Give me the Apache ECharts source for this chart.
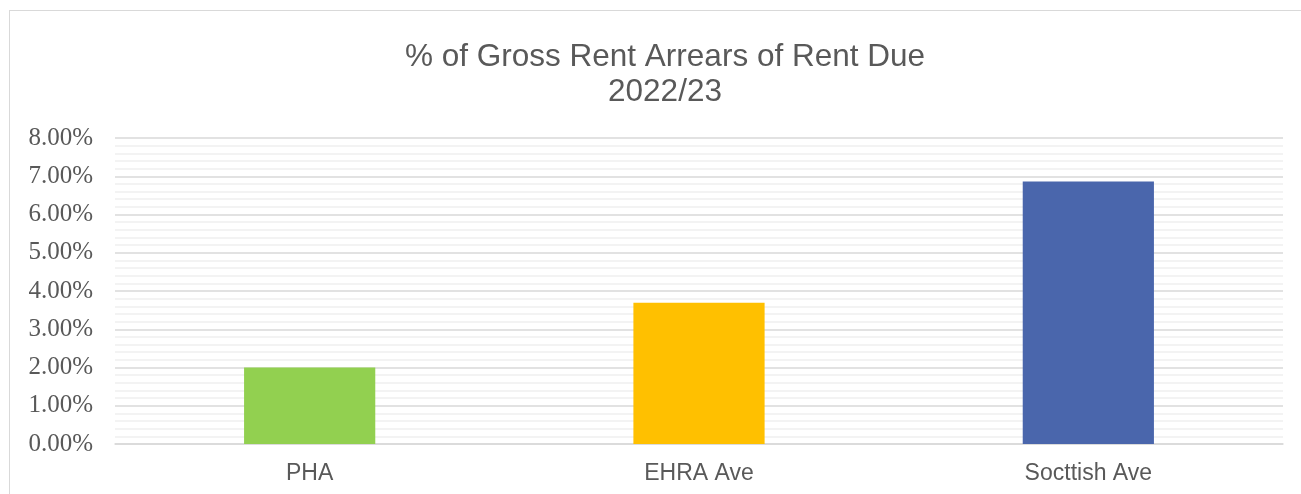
<!DOCTYPE html>
<html>
<head>
<meta charset="utf-8">
<script src="https://cdn.jsdelivr.net/npm/echarts@6/dist/echarts.min.js"></script>
<style>
  html, body { margin: 0; padding: 0; background: #fff; }
  #frame { position: absolute; left: 9px; top: 10px; width: 1300px; height: 500px; border: 1px solid #d9d9d9; box-sizing: border-box; }
  #main { position: absolute; left: 0; top: 0; width: 1301px; height: 494px; }
</style>
</head>
<body>
<div id="frame"></div>
<div id="main"></div>
<script>
var categories = ['PHA', 'EHRA Ave', 'Socttish Ave'];
var arrears = [2.00, 3.69, 6.86];
var barColors = ['#92D050', '#FFC000', '#4A66AC'];

var chart = echarts.init(document.getElementById('main'));
var option = {
    backgroundColor: 'transparent',
    animation: false,
    title: {
        text: '% of Gross Rent Arrears of Rent Due\n2022/23',
        left: 660,
        textAlign: 'center',
        top: 35,
        textStyle: {
            color: '#595959',
            fontFamily: 'Liberation Sans',
            fontSize: 31.5,
            fontWeight: 'normal',
            lineHeight: 35
        }
    },
    grid: { left: 115, right: 18, top: 138, bottom: 50 },
    xAxis: {
        type: 'category',
        data: categories,
        axisLine: { lineStyle: { color: '#d9d9d9', width: 1.5 } },
        axisTick: { show: false },
        axisLabel: {
            color: '#595959',
            fontFamily: 'Liberation Sans',
            fontSize: 23,
            margin: 18
        }
    },
    yAxis: {
        type: 'value',
        min: 0,
        max: 8,
        interval: 1,
        axisLine: { show: false },
        axisTick: { show: false },
        axisLabel: {
            color: '#595959',
            fontFamily: 'Liberation Serif',
            fontSize: 25,
            margin: 22,
            formatter: function (v) { return v.toFixed(2) + '%'; }
        },
        splitLine: { lineStyle: { color: '#d9d9d9', width: 1.5 } },
        minorTick: { show: false, splitNumber: 5 },
        minorSplitLine: { show: true, lineStyle: { color: '#efefef', width: 1.5 } }
    },
    series: [{
        type: 'bar',
        barWidth: '33.7%',
        data: arrears.map(function (v, i) {
            return { value: v, itemStyle: { color: barColors[i] } };
        })
    }]
};
chart.setOption(option);
</script>
</body>
</html>
